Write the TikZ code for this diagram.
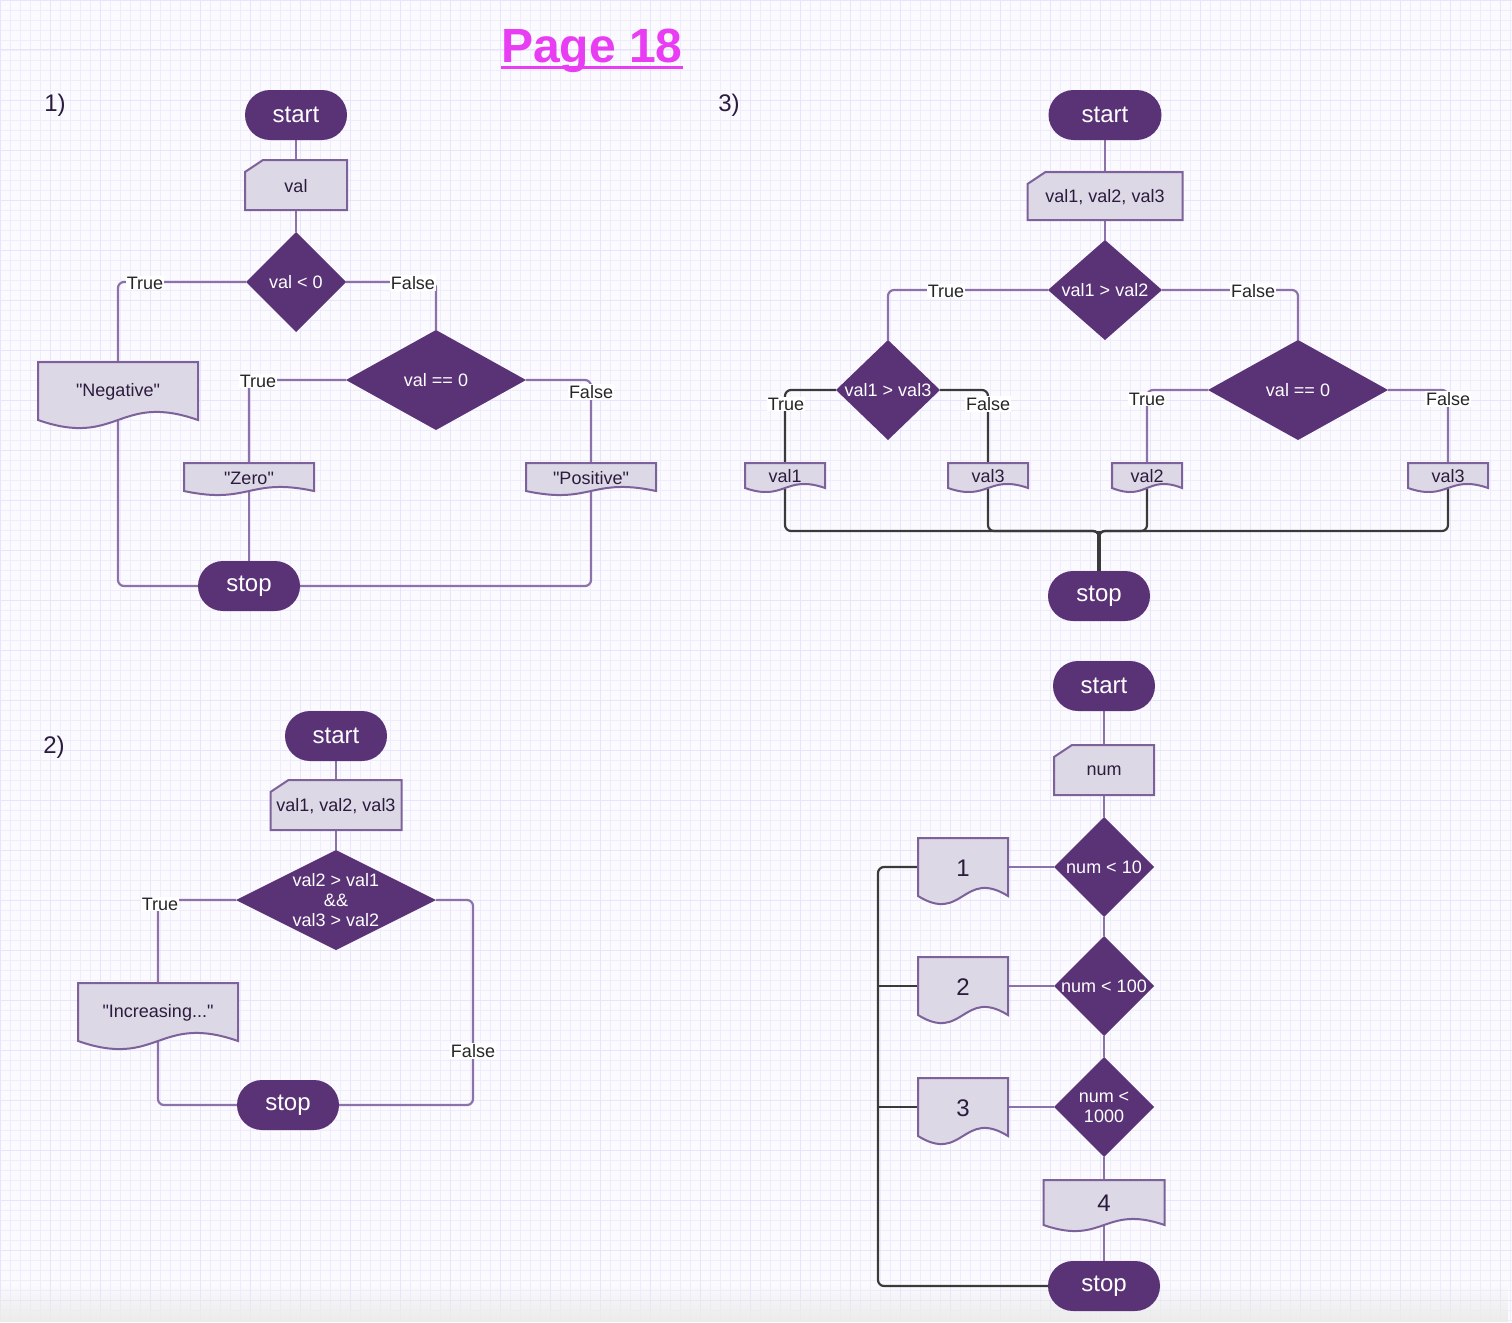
\documentclass[tikz,border=0pt]{standalone}
\usepackage{fontspec}
\setmainfont{Liberation Sans}
\usetikzlibrary{shapes.geometric,fadings,calc}
\definecolor{termc}{HTML}{5A3276}
\definecolor{boxfill}{HTML}{DDD8E6}
\definecolor{boxdraw}{HTML}{7D619A}
\definecolor{boxtext}{HTML}{2B1B3D}
\definecolor{connc}{HTML}{8C72A8}
\definecolor{darkc}{HTML}{3A3A3A}
\definecolor{titlec}{HTML}{E83DF2}
\definecolor{gridbg}{HTML}{FAFAFF}
\definecolor{gridminor}{HTML}{EFEDFC}
\definecolor{gridmajor}{HTML}{E8E5FA}
\pgfdeclarelayer{gridlayer}
\pgfdeclarelayer{bg}
\pgfsetlayers{gridlayer,bg,main}
\tikzset{
  term/.style={fill=termc, draw=none, rounded corners=25pt, text=white,
    font=\fontsize{24}{28}\selectfont, minimum height=50pt, minimum width=102pt,
    inner sep=0pt, outer sep=0pt},
  dia/.style={diamond, fill=termc, draw=none, inner sep=0pt, outer sep=0pt},
  dtxt/.style={text=white, font=\fontsize{18}{20}\selectfont, align=center, inner sep=0pt},
  boxst/.style={fill=boxfill, draw=boxdraw, line width=2pt},
  boxtxt/.style={text=boxtext, font=\fontsize{18}{21}\selectfont, inner sep=0pt, outer sep=0pt},
  conn/.style={draw=connc, line width=2.2pt, rounded corners=6pt},
  dconn/.style={draw=darkc, line width=2.2pt, rounded corners=6pt},
  lab/.style={fill=white, text=black!85, font=\fontsize{18}{21}\selectfont, inner sep=1pt},
  numlab/.style={text=boxtext, font=\fontsize{24}{28}\selectfont, inner sep=0pt},
  titlest/.style={text=titlec, font=\fontsize{48}{56}\selectfont\bfseries, inner sep=0pt}
}
\newcommand{\qq}{\textquotedbl}
% document shape: name, cx, ytop, w, hside, ctrl, text
\newcommand{\docshape}[7]{%
  \filldraw[boxst] (#2-#4/2,#3) -- (#2+#4/2,#3) -- (#2+#4/2,#3+#5)
    .. controls (#2,#3+#5-#6) and (#2,#3+#5+#6) .. (#2-#4/2,#3+#5) -- cycle;
  \node[boxtxt, minimum width=#4pt, minimum height=#5pt] (#1) at (#2,#3+#5/2+1) {#7};
}
% manual input shape: name, cx, cy, w, h, text
\newcommand{\inshape}[6]{%
  \filldraw[boxst] (#2-#4/2,#3-#5/2+12) -- (#2-#4/2+18,#3-#5/2) -- (#2+#4/2,#3-#5/2)
    -- (#2+#4/2,#3+#5/2) -- (#2-#4/2,#3+#5/2) -- cycle;
  \node[boxtxt, minimum width=#4pt, minimum height=#5pt] (#1) at (#2,#3+1) {#6};
}
\begin{document}
\begin{tikzpicture}[x=1pt,y=-1pt]
\useasboundingbox (0,0) rectangle (1512,1322);
\begin{pgfonlayer}{gridlayer}
  \fill[gridbg] (0,0) rectangle (1512,1322);
  \draw[gridminor, line width=0.8pt, step=10pt] (0,0) grid (1512,1322);
  \draw[gridmajor, line width=1pt, step=50pt] (0,0) grid (1512,1322);
  \fill[black!8, path fading=north] (0,1285) rectangle (1512,1322);
\end{pgfonlayer}

% title and numbers
\node[titlest, anchor=base] (title) at (592,63) {Page 18};
\draw[titlec, line width=3pt] ([yshift=-5pt]title.base west) -- ([yshift=-5pt]title.base east);
\node[numlab] (n1) at (55,105) {1)};
\node[numlab] (n3) at (729,105) {3)};
\node[numlab] (n2) at (54,747) {2)};

% ---------------- Diagram 1 ----------------
\node[term] (s1) at (296,115) {start};
\inshape{i1}{296}{185}{102}{50}{val}
\node[dia, minimum width=100pt, minimum height=100pt, label={[dtxt]center:{val < 0}}] (d1a) at (296,282) {};
\node[dia, minimum width=180pt, minimum height=100pt, label={[dtxt]center:{val == 0}}] (d1b) at (436,380) {};
\docshape{neg}{118}{362}{160}{58}{28}{\qq Negative\qq}
\docshape{zero}{249}{463}{130}{28}{14}{\qq Zero\qq}
\docshape{pos}{591}{463}{130}{28}{14}{\qq Positive\qq}
\node[term] (e1) at (249,586) {stop};
\begin{pgfonlayer}{bg}
  \draw[conn] (s1.south) -- (i1.north);
  \draw[conn] (i1.south) -- (d1a.north);
  \draw[conn] (d1a.west) -| (neg.north);
  \draw[conn] (d1a.east) -| (d1b.north);
  \draw[conn] (d1b.west) -| (zero.north);
  \draw[conn] (d1b.east) -| (pos.north);
  \draw[conn] (neg.south) |- (e1.west);
  \draw[conn] (zero.south) -- (e1.north);
  \draw[conn] (pos.south) |- (e1.east);
\end{pgfonlayer}
\node[lab] (l1a) at (145,283) {True};
\node[lab] (l1b) at (413,283) {False};
\node[lab] (l1c) at (258,381) {True};
\node[lab] (l1d) at (591,392) {False};

% ---------------- Diagram 3 ----------------
\node[term, minimum width=113pt] (s3) at (1105,115) {start};
\inshape{i3}{1105}{196}{155}{48}{val1, val2, val3}
\node[dia, minimum width=114pt, minimum height=100pt, label={[dtxt]center:{val1 > val2}}] (d3a) at (1105,290) {};
\node[dia, minimum width=104pt, minimum height=100pt, label={[dtxt]center:{val1 > val3}}] (d3b) at (888,390) {};
\node[dia, minimum width=180pt, minimum height=100pt, label={[dtxt]center:{val == 0}}] (d3c) at (1298,390) {};
\docshape{v1}{785}{463}{80}{25}{14}{val1}
\docshape{v3}{988}{463}{80}{25}{14}{val3}
\docshape{v2}{1147}{463}{70}{25}{14}{val2}
\docshape{v3r}{1448}{463}{80}{25}{14}{val3}
\node[term] (e3) at (1099,596) {stop};
\coordinate (m3) at (1099,531);
\begin{pgfonlayer}{bg}
  \draw[conn] (s3.south) -- (i3.north);
  \draw[conn] (i3.south) -- (d3a.north);
  \draw[conn] (d3a.west) -| (d3b.north);
  \draw[conn] (d3a.east) -| (d3c.north);
  \draw[dconn] (d3b.west) -| (v1.north);
  \draw[dconn] (d3b.east) -| (v3.north);
  \draw[conn] (d3c.west) -| (v2.north);
  \draw[conn] (d3c.east) -| (v3r.north);
  \draw[dconn] (v1.south) |- (m3) -- (e3.north);
  \draw[dconn] (v3.south) |- (m3) -- (e3.north);
  \draw[dconn] (v2.south) |- (m3) -- (e3.north);
  \draw[dconn] (v3r.south) |- (m3) -- (e3.north);
  \draw[draw=darkc, line width=3.5pt] (m3) -- (e3.north);
\end{pgfonlayer}
\node[lab] (l3a) at (946,291) {True};
\node[lab] (l3b) at (1253,291) {False};
\node[lab] (l3c) at (786,404) {True};
\node[lab] (l3d) at (988,404) {False};
\node[lab] (l3e) at (1147,399) {True};
\node[lab] (l3f) at (1448,399) {False};

% ---------------- Diagram 2 ----------------
\node[term] (s2) at (336,736) {start};
\inshape{i2}{336}{805}{131}{50}{val1, val2, val3}
\node[dia, minimum width=200pt, minimum height=100pt, label={[dtxt]center:{val2 > val1\\\&\&\\val3 > val2}}] (d2a) at (336,900) {};
\docshape{inc}{158}{983}{160}{58}{28}{\qq Increasing...\qq}
\node[term] (e2) at (288,1105) {stop};
\coordinate (r2) at (473,1105);
\begin{pgfonlayer}{bg}
  \draw[conn] (s2.south) -- (i2.north);
  \draw[conn] (i2.south) -- (d2a.north);
  \draw[conn] (d2a.west) -| (inc.north);
  \draw[conn] (inc.south) |- (e2.west);
  \draw[conn] (d2a.east) -| (r2) -- (e2.east);
\end{pgfonlayer}
\node[lab] (l2a) at (160,904) {True};
\node[lab] (l2b) at (473,1051) {False};

% ---------------- Diagram 4 ----------------
\node[term] (s4) at (1104,686) {start};
\inshape{i4}{1104}{770}{100}{50}{num}
\node[dia, minimum width=100pt, minimum height=100pt, label={[dtxt]center:{num < 10}}] (d4a) at (1104,867) {};
\node[dia, minimum width=100pt, minimum height=100pt, label={[dtxt]center:{num < 100}}] (d4b) at (1104,986) {};
\node[dia, minimum width=100pt, minimum height=100pt, label={[dtxt]center:{num <\\1000}}] (d4c) at (1104,1107) {};
\docshape{b1}{963}{838}{90}{58}{28}{\fontsize{24}{28}\selectfont 1}
\docshape{b2}{963}{957}{90}{58}{28}{\fontsize{24}{28}\selectfont 2}
\docshape{b3}{963}{1078}{90}{58}{28}{\fontsize{24}{28}\selectfont 3}
\docshape{b4}{1104}{1180}{121}{45}{21}{\fontsize{24}{28}\selectfont 4}
\node[term, minimum width=112pt] (e4) at (1104,1286) {stop};
\coordinate (L4) at (878,1286);
\begin{pgfonlayer}{bg}
  \draw[conn] (s4.south) -- (i4.north);
  \draw[conn] (i4.south) -- (d4a.north);
  \draw[conn] (d4a.south) -- (d4b.north);
  \draw[conn] (d4b.south) -- (d4c.north);
  \draw[conn] (d4c.south) -- (b4.north);
  \draw[conn] (b4.south) -- (e4.north);
  \draw[conn] (d4a.west) -- (d4a.west -| b1.east);
  \draw[conn] (d4b.west) -- (d4b.west -| b2.east);
  \draw[conn] (d4c.west) -- (d4c.west -| b3.east);
  \draw[dconn] (b1.west |- d4a.west) -| (L4) -- (e4.west);
  \draw[dconn] (b2.west |- d4b.west) -- (d4b.west -| L4);
  \draw[dconn] (b3.west |- d4c.west) -- (d4c.west -| L4);
\end{pgfonlayer}
\end{tikzpicture}
\end{document}
